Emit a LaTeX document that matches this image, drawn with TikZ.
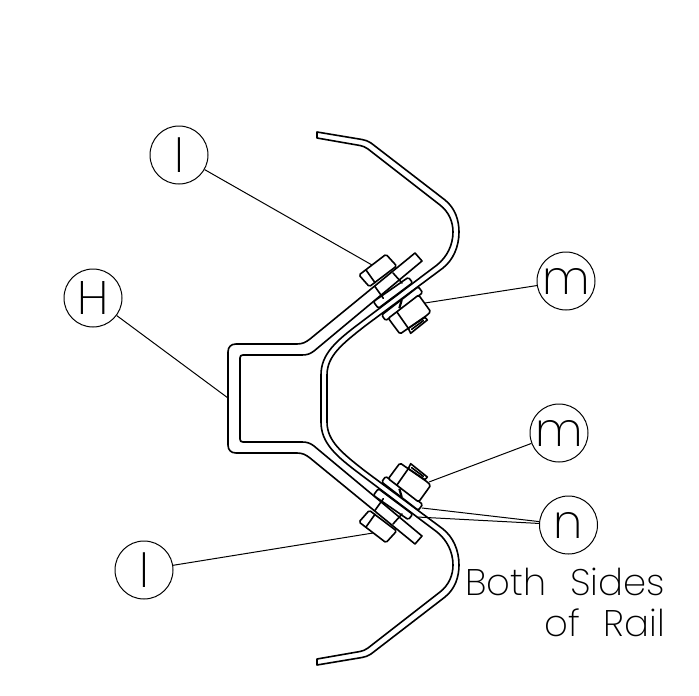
\documentclass[tikz,border=0pt]{standalone}
\usepackage{fontspec}
\setmainfont{Poppins ExtraLight}
\tikzset{
  x=1pt,y=-1pt,
  part/.style={line width=1.6pt,line join=round,line cap=round},
  hw/.style={part,rounded corners=1.5pt,fill=white},
  leader/.style={line width=1pt},
  callout/.style={circle,draw,line width=1pt,minimum size=58pt,inner sep=0pt,font=\fontsize{47}{47}\selectfont},
  note/.style={inner sep=0pt,anchor=base east,font=\fontsize{37}{37}\selectfont}
}
\newcommand{\halfrail}{%
  % rail
  \draw[part] (321,398.5) -- (321,375) .. controls (321,354) and (336,341) .. (360,323) -- (437,265)
    .. controls (447,257) and (453,245) .. (453,232) .. controls (453,222) and (449,212) .. (440,205)
    -- (368,149) .. controls (365,147) and (363,146) .. (360,145.5) -- (317,138) -- (317,132) -- (362,139.5)
    .. controls (365,140) and (368,141) .. (371,143) -- (445,200)
    .. controls (455,208) and (459,220) .. (459,232) .. controls (459,247) and (453,260) .. (443,268)
    -- (365,326) .. controls (342,344) and (327,356) .. (327,375) -- (327,398.5);
  % bracket
  \draw[part] (228,398.5) -- (228,352) .. controls (228,347) and (231,344) .. (236,344) -- (297,344)
    .. controls (303,344) and (306,342) .. (310,339) -- (415,253) -- (422,261) -- (314,351)
    .. controls (310,354) and (307,355) .. (302,355) -- (243,355) .. controls (241,355) and (240,356) .. (240,358) -- (240,398.5);
  % bolt, in the frame of the zoomed crop
  \begin{scope}[shift={(340,230)},scale=1/3]
    \draw[hw] (125,255) -- (235,170) -- (248,188) -- (137,272) -- cycle;
    \draw[hw] (100,215) -- (205,142) -- (218,158) -- (115,235) -- cycle;
    \draw[hw] (145,265) -- (236,195) -- (272,245) -- (262,255) -- (180,312) -- cycle;
    \draw[part] (170,245) -- (205,295);
    \draw[part] (205,295) -- (255,262) -- (262,270) -- (212,310) -- cycle;
    \draw[part] (215,298) -- (250,272);
    \draw[line width=2.2pt] (185,210) -- (178,235);
    \draw[part] (105,170) -- (130,205);
    \draw[part] (159,129) -- (186,159);
    \draw[hw] (57,135) -- (138,73) -- (170,108) -- (88,170) -- cycle;
    \draw[part] (78,120) -- (105,158);
  \end{scope}
}
\begin{document}
\begin{tikzpicture}
\useasboundingbox (0,0) rectangle (699,696);
\halfrail
\begin{scope}[shift={(0,797)},yscale=-1]
\halfrail
\end{scope}
\node[callout] (lu) at (179,155) {l};
\node[callout] (h) at (93,298) {H};
\node[callout] (mu) at (566,281) {m};
\node[callout] (md) at (559,433) {m};
\node[callout] (n) at (568.5,525) {n};
\node[callout] (ld) at (144,570) {l};
\coordinate (lua) at (372,265);
\coordinate (ha) at (228,398);
\coordinate (mua) at (425,303);
\coordinate (mda) at (429,482);
\coordinate (lda) at (373,533);
\coordinate (na) at (422,508);
\coordinate (nb) at (417,517);
\draw[leader] (lu) -- (lua);
\draw[leader] (h) -- (ha);
\draw[leader] (mu) -- (mua);
\draw[leader] (md) -- (mda);
\draw[leader] (ld) -- (lda);
\draw[leader] (n) -- (na);
\draw[leader] (n) -- (nb);
\node[note] (t1) at (665,595) {Both\hspace{0.35em} Sides};
\node[note] (t2) at (665,636) {of\hspace{0.35em} Rail};
\end{tikzpicture}
\end{document}
